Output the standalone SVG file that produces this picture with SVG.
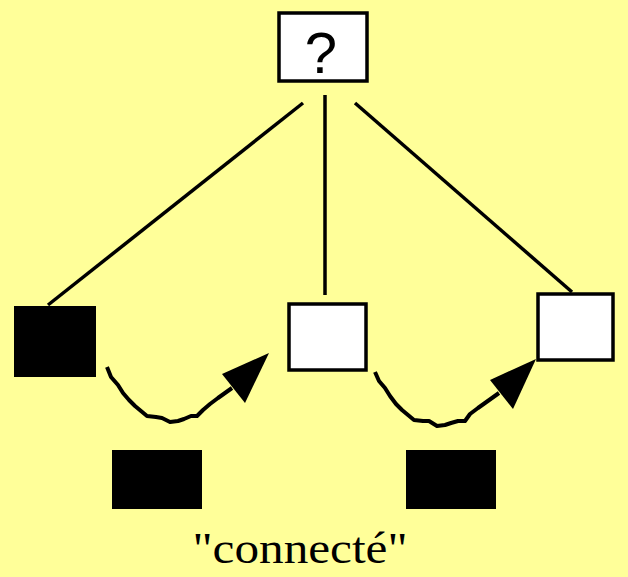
<svg xmlns="http://www.w3.org/2000/svg" width="628" height="577" viewBox="0 0 628 577">
  <style>
    .box { fill: #ffffff; stroke: #000000; stroke-width: 3.5; }
    .solid { fill: #000000; }
    .edge { fill: none; stroke: #000000; stroke-width: 3.5; }
    .wave { fill: none; stroke: #000000; stroke-width: 4; stroke-linejoin: round; }
    .head { fill: #000000; }
    .q { font-family: "Liberation Sans", Arial, sans-serif; font-size: 58px; fill: #000000; }
    .lbl { font-family: "Liberation Serif", "Times New Roman", serif; font-size: 44px; fill: #000000; }
  </style>
  <rect width="628" height="577" fill="#ffff99"/>

  <g id="connectors">
    <line class="edge" x1="303" y1="103" x2="48" y2="305"/>
    <line class="edge" x1="325" y1="95" x2="325" y2="295"/>
    <line class="edge" x1="355" y1="103" x2="572" y2="292"/>
    <polyline class="wave" points="107,367 111,377 118,385 123,393 129,400 135,406 141,411 147,416 156,417 162,418 170,422 178,421 184,419 191,416 197,416 203,410 210,404 218,398 232,388"/>
    <polygon class="head" points="269,353 222,374 245,403"/>
    <polyline class="wave" points="375,372 379,381 385,388 390,396 396,404 402,410 408,415 414,420 423,421 429,421 437,426 445,425 451,423 458,421 465,421 470,414 478,408 485,403 499,393"/>
    <polygon class="head" points="536,359 490,380 513,409"/>
  </g>

  <g id="root">
    <rect class="box" x="279" y="13" width="88" height="68"/>
    <text class="q" x="321" y="73" text-anchor="middle">?</text>
  </g>

  <g id="left">
    <rect class="solid" x="14" y="306" width="82" height="71"/>
  </g>
  <g id="middle">
    <rect class="box" x="289" y="304" width="77" height="66"/>
  </g>
  <g id="right">
    <rect class="box" x="538" y="294" width="75" height="66"/>
  </g>

  <g id="token-left">
    <rect class="solid" x="112" y="450" width="90" height="59"/>
  </g>
  <g id="token-right">
    <rect class="solid" x="406" y="450" width="90" height="59"/>
  </g>

  <g id="caption">
    <text class="lbl" x="300" y="563" text-anchor="middle" textLength="215" lengthAdjust="spacingAndGlyphs">"connecté"</text>
  </g>
</svg>
